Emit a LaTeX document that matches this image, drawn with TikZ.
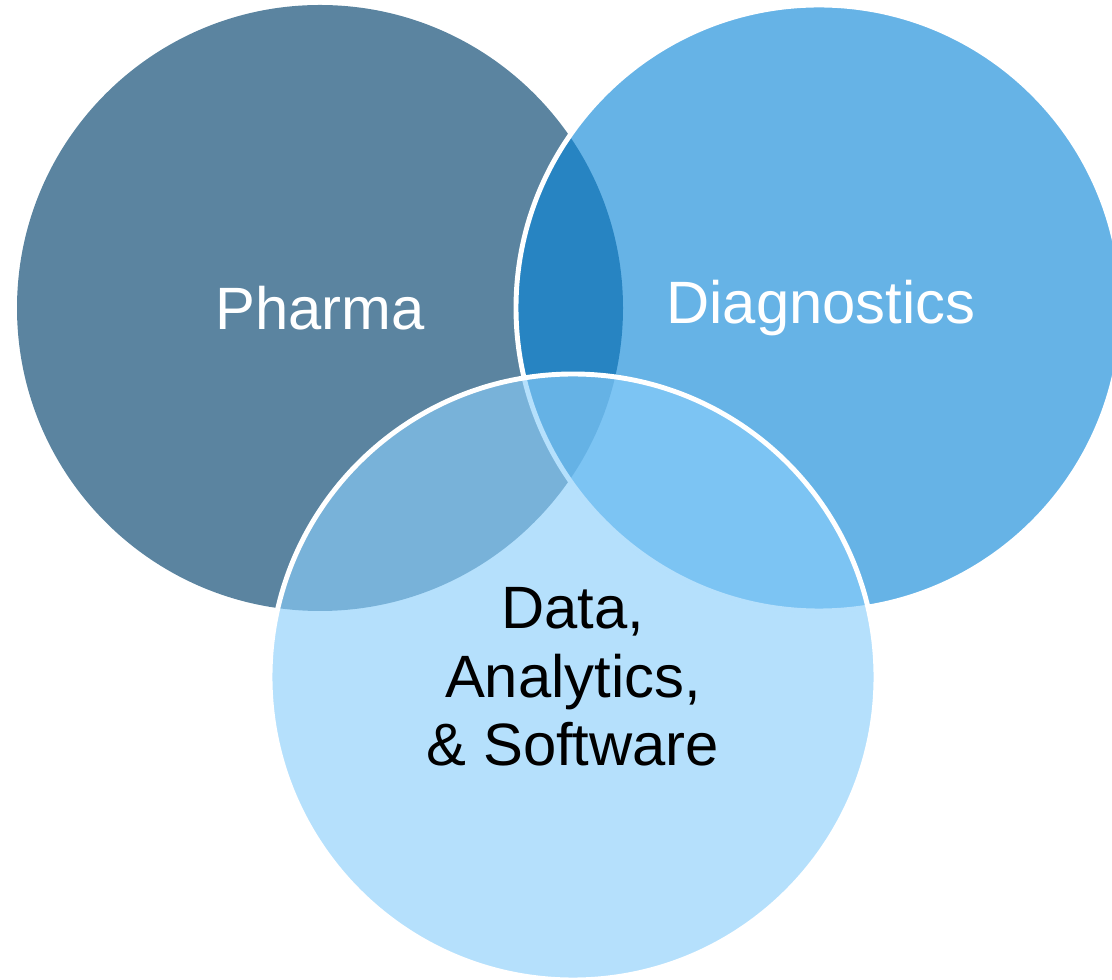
\documentclass[tikz,border=0pt]{standalone}
\usepackage{fontspec}
\setmainfont{Liberation Sans}
\definecolor{pharmablue}{HTML}{5B84A0}
\definecolor{diagblue}{RGB}{8,132,215}
\definecolor{datablue}{RGB}{138,206,251}

\begin{document}
\begin{tikzpicture}[x=0.01cm, y=-0.01cm,
    label/.style={font=\fontsize{17}{19.5}\selectfont, align=center}]
    \useasboundingbox (0,0) rectangle (1112,980);
    \fill[pharmablue] (320,308) circle (303);
    \begin{scope}[fill opacity=.62]
        \filldraw[fill=diagblue, draw=white, line width=1.4pt] (819,308) circle (303);
    \end{scope}
    \begin{scope}[fill opacity=.63]
        \filldraw[fill=datablue, draw=white, line width=1.4pt] (573,677) circle (303);
    \end{scope}
    \node[label, white] (pharma) at (320,308) {Pharma};
    \node[label, white] (diag) at (821,308) {Diagnostics};
    \node[label, black] (data) at (573,677) {Data,\\Analytics,\\\& Software};
\end{tikzpicture}
\end{document}
